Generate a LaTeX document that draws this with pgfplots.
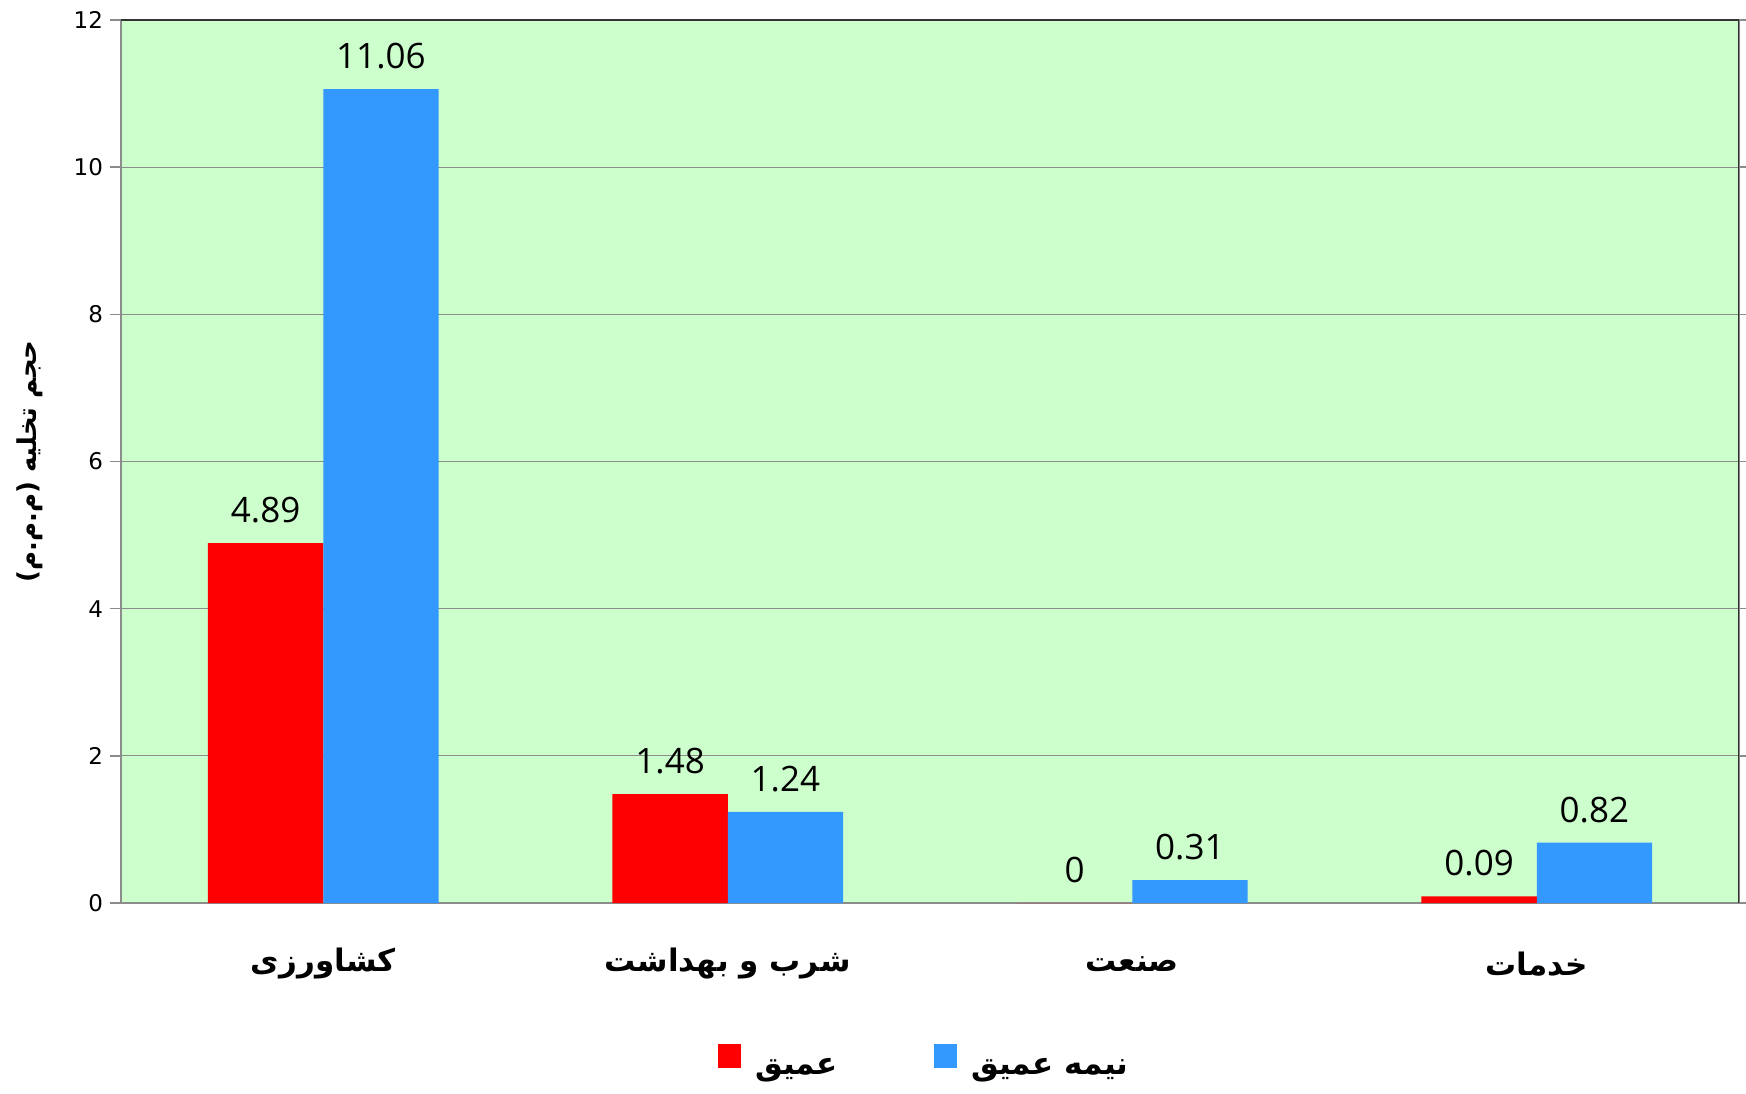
\documentclass[border=0pt]{standalone}
\usepackage{fontspec}
\usepackage{pgfplots}
\pgfplotsset{compat=1.18}
\TeXXeTstate=1
\setmainfont{DejaVu Sans}
\newfontfamily\numfont{Open Sans}
\newfontfamily\arabicfont[Script=Arabic]{DejaVu Sans}
\definecolor{bg}{HTML}{CCFFCC}
\definecolor{barred}{HTML}{FF0000}
\definecolor{barblue}{HTML}{3399FF}
\definecolor{axisgray}{HTML}{8C8C8C}

\begin{document}
\begin{tikzpicture}
\path[use as bounding box] (0,0) rectangle (873pt,546.5pt);
\begin{axis}[
  at={(60.5pt,95pt)}, anchor=south west,
  scale only axis, width=809pt, height=441.5pt,
  ybar=0pt, bar width=0.285,
  xmin=-0.5, xmax=3.5, ymin=0, ymax=12,
  xtick={0,1,2,3},
  xticklabels={
    {\arabicfont\bfseries\beginR کشاورزی\endR},
    {\arabicfont\bfseries\beginR شرب و بهداشت\endR},
    {\arabicfont\bfseries\beginR صنعت\endR},
    {\arabicfont\bfseries\beginR خدمات\endR}},
  ytick={0,2,...,12},
  xtick style={draw=none},
  ytick style={axisgray, line width=0.8pt},
  major tick length=5.5pt,
  tick align=outside,
  /pgf/number format/assume math mode=true,
  yticklabel style={font=\fontsize{11.5}{13}\selectfont},
  xticklabel style={font=\fontsize{15.5}{18}\selectfont, anchor=center, yshift=-25pt},
  axis background/.style={fill=bg},
  ymajorgrids,
  major grid style={axisgray, line width=0.6pt},
  axis line style={axisgray, line width=1.2pt},
  ylabel={\arabicfont\bfseries\beginR حجم تخلیه (م.م.م)\endR},
  ylabel style={font=\fontsize{13}{15}\selectfont, at={(axis description cs:-0.0562,0.5)}, anchor=center},
  nodes near coords={\pgfmathprintnumber[fixed,precision=2]{\pgfplotspointmeta}},
  every node near coord/.append style={font=\numfont\fontsize{17.5}{20}\selectfont, black, yshift=6.5pt},
  legend style={draw=none, fill=none, at={(axis description cs:0.497,-0.181)}, anchor=center,
    font=\fontsize{15.5}{18}\selectfont,
    /tikz/every odd column/.append style={column sep=5pt},
    /tikz/every even column/.append style={column sep=46pt}},
  legend columns=2,
  legend image code/.code={\fill[#1] (0pt,0pt) rectangle (11.7pt,11.7pt);},
]
\addplot[fill=barred, draw=none] coordinates {(0,4.89) (1,1.48) (2,0) (3,0.09)};
\addplot[fill=barblue, draw=none] coordinates {(0,11.06) (1,1.24) (2,0.31) (3,0.82)};
\legend{{\arabicfont\bfseries\beginR عمیق\endR},{\arabicfont\bfseries\beginR نیمه عمیق\endR}}
\draw[black!80, line width=1.2pt] (rel axis cs:0,1) -- (rel axis cs:1,1) -- (rel axis cs:1,0);
\end{axis}
\end{tikzpicture}
\end{document}
